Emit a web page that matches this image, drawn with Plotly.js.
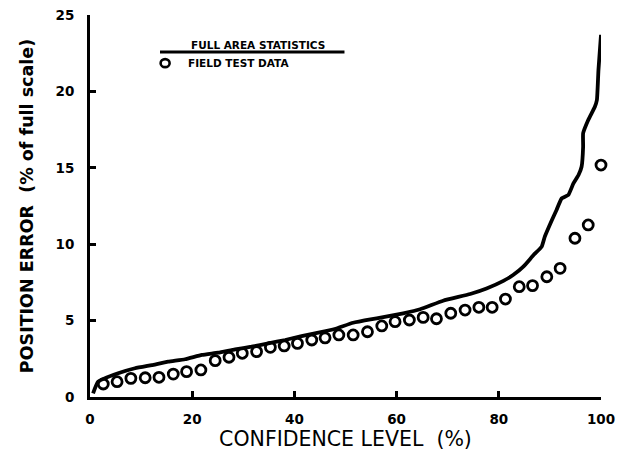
<!DOCTYPE html>
<html>
<head>
<meta charset="utf-8">
<script src="https://cdn.plot.ly/plotly-3.0.1.min.js"></script>
<style>html,body{margin:0;padding:0;background:#fff}#chart{width:619px;height:461px}</style>
</head>
<body>
<div id="chart"></div>
<script>
// Full area statistics (solid curve)
const statsX = [0.6, 1.6, 5.5, 8.8, 12.1, 15.3, 18.6, 21.9, 25.1, 28.4, 31.6, 34.9, 38.2, 41.4, 44.7, 47.9, 51.5, 56.1, 61.3, 64.6, 69.1, 74.4, 77.6, 80.9, 82.8, 84.8, 86.8, 88.4, 89.0, 90.4, 91.3, 92.3, 93.6, 94.6, 95.6, 96.2, 96.5, 96.5, 97.5, 98.8, 99.2, 99.5, 100];
const statsY = [0.24, 1.0, 1.55, 1.88, 2.09, 2.31, 2.47, 2.75, 2.9, 3.12, 3.29, 3.51, 3.73, 3.99, 4.21, 4.45, 4.86, 5.15, 5.48, 5.74, 6.3, 6.74, 7.1, 7.6, 7.98, 8.53, 9.29, 9.84, 10.49, 11.58, 12.24, 13.0, 13.22, 13.98, 14.53, 15.07, 16.38, 17.26, 18.13, 19.0, 19.44, 21.4, 23.7];

// Field test data (open circles)
const fieldX = [2.6, 5.3, 8.0, 10.8, 13.5, 16.3, 18.9, 21.7, 24.5, 27.2, 29.8, 32.6, 35.3, 38.0, 40.6, 43.4, 46.0, 48.7, 51.5, 54.3, 57.1, 59.7, 62.5, 65.2, 67.8, 70.6, 73.4, 76.1, 78.7, 81.3, 84.0, 86.6, 89.4, 92.0, 94.9, 97.5, 100];
const fieldY = [0.85, 1.0, 1.22, 1.26, 1.29, 1.5, 1.66, 1.77, 2.38, 2.6, 2.86, 2.97, 3.25, 3.34, 3.51, 3.73, 3.87, 4.06, 4.06, 4.27, 4.65, 4.93, 5.04, 5.21, 5.12, 5.48, 5.69, 5.87, 5.87, 6.41, 7.22, 7.29, 7.87, 8.42, 10.39, 11.26, 15.18];

const xTicks = [0, 20, 40, 60, 80, 100];
const yTicks = [0, 5, 10, 15, 20, 25];
const legendLine = 'FULL AREA STATISTICS';
const legendMarker = 'FIELD TEST DATA';

const FONT = 'DejaVu Sans, sans-serif';

const traces = [
  {x: statsX, y: statsY, mode: 'lines', name: legendLine,
   line: {color: '#000', width: 3.8, shape: 'spline', smoothing: 0.4}, cliponaxis: false},
  {x: fieldX, y: fieldY, mode: 'markers', name: legendMarker,
   marker: {symbol: 'circle-open', size: 10, color: '#000', line: {width: 2.8, color: '#000'}}, cliponaxis: false}
];

const layout = {
  width: 619, height: 461,
  margin: {l: 90, r: 18, t: 15, b: 64},
  paper_bgcolor: '#fff', plot_bgcolor: '#fff',
  showlegend: false,
  font: {family: FONT, color: '#000'},
  xaxis: {
    range: [0, 100], tickvals: xTicks, ticktext: xTicks.map(String),
    showgrid: false, zeroline: false, showline: true, linecolor: '#000', linewidth: 3,
    ticks: 'inside', ticklen: 6, tickwidth: 3, tickcolor: '#000',
    tickfont: {family: FONT, size: 13.5, weight: 'bold'}, ticklabelstandoff: 8,
    title: {text: 'CONFIDENCE LEVEL  (%)', font: {family: FONT, size: 20.5}, standoff: 3}
  },
  yaxis: {
    range: [0, 25], tickvals: yTicks, ticktext: yTicks.map(String),
    showgrid: false, zeroline: false, showline: true, linecolor: '#000', linewidth: 3,
    ticks: 'inside', ticklen: 6, tickwidth: 3, tickcolor: '#000',
    tickfont: {family: FONT, size: 13.5, weight: 'bold'}, ticklabelstandoff: 10,
    title: {text: 'POSITION ERROR  (% of full scale)', font: {family: FONT, size: 17.5, weight: 'bold'}, standoff: 18}
  },
  shapes: [
    {type: 'line', xref: 'paper', yref: 'paper', x0: 0.137, x1: 0.498, y0: 0.903, y1: 0.903,
     line: {color: '#000', width: 3}},
    {type: 'circle', xref: 'paper', yref: 'paper', xsizemode: 'pixel', ysizemode: 'pixel',
     xanchor: 0.147, yanchor: 0.874, x0: -4.5, x1: 4.5, y0: -4, y1: 4,
     line: {color: '#000', width: 2.6}}
  ],
  annotations: [
    {xref: 'paper', yref: 'paper', x: 0.194, y: 0.921, xanchor: 'left', yanchor: 'middle',
     text: legendLine, showarrow: false, font: {family: FONT, size: 10.5, weight: 'bold'}},
    {xref: 'paper', yref: 'paper', x: 0.188, y: 0.874, xanchor: 'left', yanchor: 'middle',
     text: legendMarker, showarrow: false, font: {family: FONT, size: 10.5, weight: 'bold'}}
  ]
};

Plotly.newPlot('chart', traces, layout, {displayModeBar: false, staticPlot: true});
</script>
</body>
</html>
